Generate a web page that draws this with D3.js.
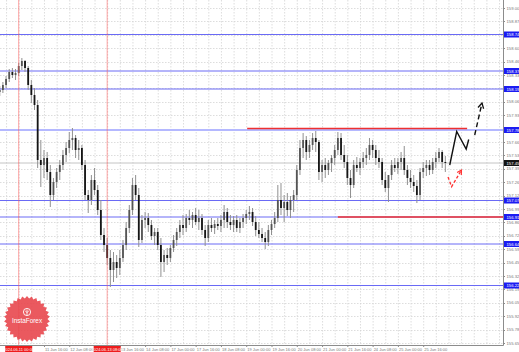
<!DOCTYPE html>
<html><head><meta charset="utf-8">
<script src="https://cdn.jsdelivr.net/npm/d3@7"></script>
<style>html,body{margin:0;padding:0;background:#fff;}svg{display:block;}</style>
</head><body>
<svg id="c" width="519" height="352"></svg>
<script>
// ---- DATA (2-hour bars, index 0 = 2024.06.11 00:00) ----
const firstBar = -6;
const opens = [158.16,158.18,158.23,158.29,158.36,158.33,158.35,158.42,158.47,158.40,158.23,158.13,158.03,157.48,157.43,157.50,157.36,157.13,157.26,157.36,157.43,157.53,157.60,157.68,157.70,157.58,157.60,157.43,157.13,157.08,157.28,157.18,156.98,156.73,156.63,156.50,156.38,156.46,156.40,156.50,156.63,156.80,156.98,157.23,157.13,156.68,156.88,156.90,156.83,156.72,156.76,156.63,156.46,156.53,156.50,156.60,156.68,156.76,156.83,156.80,156.90,156.88,156.93,156.86,156.90,156.78,156.70,156.83,156.80,156.84,156.82,156.88,156.96,156.86,156.83,156.88,156.80,156.86,156.90,156.94,156.96,156.86,156.78,156.74,156.70,156.66,156.78,156.84,156.90,157.08,157.00,157.06,156.98,157.08,157.13,157.38,157.60,157.68,157.56,157.63,157.70,157.66,157.36,157.43,157.38,157.45,157.50,157.58,157.70,157.53,157.46,157.30,157.23,157.43,157.40,157.46,157.50,157.53,157.63,157.58,157.50,157.46,157.28,157.20,157.33,157.43,157.40,157.46,157.50,157.38,157.30,157.26,157.22,157.13,157.36,157.40,157.43,157.38,157.46,157.50,157.56,157.46];
const highs = [158.22,158.26,158.32,158.39,158.40,158.39,158.45,158.50,158.48,158.42,158.28,158.20,158.08,157.68,157.58,157.56,157.43,157.30,157.40,157.48,157.58,157.66,157.76,157.80,157.73,157.68,157.63,157.48,157.18,157.33,157.40,157.23,157.08,156.80,156.70,156.58,156.56,156.53,156.58,156.68,156.86,157.03,157.30,157.33,157.20,156.93,156.96,156.95,156.88,156.80,156.80,156.70,156.58,156.60,156.63,156.73,156.80,156.88,156.93,156.94,156.98,156.96,157.00,156.98,156.94,156.83,156.88,156.90,156.88,156.90,156.93,157.03,157.00,156.93,156.92,156.93,156.90,156.94,156.98,157.02,157.00,156.92,156.86,156.80,156.76,156.83,156.88,156.96,157.23,157.25,157.13,157.15,157.12,157.18,157.43,157.68,157.75,157.72,157.68,157.75,157.77,157.68,157.48,157.50,157.48,157.53,157.63,157.76,157.75,157.63,157.53,157.38,157.48,157.51,157.50,157.56,157.60,157.70,157.68,157.63,157.58,157.50,157.36,157.28,157.48,157.50,157.50,157.56,157.62,157.43,157.38,157.33,157.28,157.40,157.46,157.48,157.48,157.50,157.56,157.60,157.58,157.52];
const lows = [158.12,158.15,158.20,158.26,158.30,158.28,158.32,158.38,158.36,158.18,158.05,157.98,157.40,157.21,157.30,157.28,157.01,157.08,157.20,157.28,157.38,157.46,157.55,157.58,157.50,157.48,157.38,157.08,156.95,157.03,157.13,156.93,156.68,156.56,156.43,156.21,156.26,156.30,156.33,156.46,156.58,156.75,156.93,157.08,156.61,156.65,156.80,156.76,156.68,156.63,156.58,156.31,156.36,156.43,156.46,156.56,156.62,156.70,156.73,156.76,156.83,156.80,156.83,156.78,156.73,156.62,156.66,156.76,156.74,156.78,156.76,156.80,156.80,156.78,156.76,156.76,156.75,156.80,156.84,156.88,156.82,156.72,156.70,156.66,156.59,156.62,156.73,156.80,156.86,156.93,156.86,156.92,156.90,156.96,157.08,157.33,157.50,157.48,157.50,157.58,157.56,157.28,157.26,157.30,157.33,157.36,157.43,157.53,157.48,157.40,157.23,157.10,157.20,157.36,157.33,157.40,157.43,157.48,157.50,157.43,157.40,157.23,157.16,157.06,157.28,157.36,157.34,157.38,157.33,157.23,157.20,157.16,157.05,157.08,157.30,157.32,157.33,157.34,157.40,157.46,157.40,157.36];
const closes = [158.18,158.23,158.29,158.36,158.33,158.35,158.42,158.47,158.40,158.23,158.13,158.03,157.48,157.43,157.50,157.36,157.13,157.26,157.36,157.43,157.53,157.60,157.68,157.70,157.58,157.60,157.43,157.13,157.08,157.28,157.18,156.98,156.73,156.63,156.50,156.38,156.46,156.40,156.50,156.63,156.80,156.98,157.23,157.13,156.68,156.88,156.90,156.83,156.72,156.76,156.63,156.46,156.53,156.50,156.60,156.68,156.76,156.83,156.80,156.90,156.88,156.93,156.86,156.90,156.78,156.70,156.83,156.80,156.84,156.82,156.88,156.96,156.86,156.83,156.88,156.80,156.86,156.90,156.94,156.96,156.86,156.78,156.74,156.70,156.66,156.78,156.84,156.90,157.08,157.00,157.06,156.98,157.08,157.13,157.38,157.60,157.68,157.56,157.63,157.70,157.66,157.36,157.43,157.38,157.45,157.50,157.58,157.70,157.53,157.46,157.30,157.23,157.43,157.40,157.46,157.50,157.53,157.63,157.58,157.50,157.46,157.28,157.20,157.33,157.43,157.40,157.46,157.50,157.38,157.30,157.26,157.22,157.13,157.36,157.40,157.43,157.38,157.46,157.50,157.56,157.46,157.45];

const yTicks = [159.000,158.866,158.732,158.598,158.464,158.330,158.196,158.062,157.928,157.794,157.660,157.526,157.392,157.258,157.124,156.990,156.856,156.722,156.588,156.454,156.320,156.186,156.052,155.918,155.784,155.650];
const xTickBars = [8,16,32,40,48,56,64,72,80,88,96,104,112,120,128];
const xTickLabels = ["11 Jun 16:00","12 Jun 08:00","13 Jun 16:00","14 Jun 08:00","17 Jun 00:00","17 Jun 16:00","18 Jun 08:00","19 Jun 00:00","19 Jun 16:00","20 Jun 08:00","21 Jun 00:00","21 Jun 16:00","24 Jun 08:00","25 Jun 00:00","25 Jun 16:00"];

const levelPrices = [158.735,158.370,158.190,156.910,157.075,156.640,156.225];
const levelStrong = [157.780];
const bidPrice = 157.450;
const redLevelPrices = [157.795, 156.910];
const redLevelFrom = [72.3, 101.0];
const redLevelTo = [141.9, 160];
const vLineBars = [0, 28];
const vLineLabels = ["2024.06.11 00:00","2024.06.13 08:00"];
const fcBlackBars = [136.4,138.6,141.6,142.4];
const fcBlackPrices = [157.43,157.765,157.59,157.685];
const fcDashBars = [144.3,146.6];
const fcDashPrices = [157.73,158.05];
const fcRedBars = [135.85,137.0,140.1];
const fcRedPrices = [157.31,157.213,157.38];

// ---- DRAW ----
const W = 503, H = 345;
const svg = d3.select("#c");
const x = d3.scaleLinear().domain([0,128]).range([18.7,423.2]);
const y = d3.scaleLinear().domain([159.08,155.63]).range([0,345]);
const font = "'Liberation Sans', Arial, sans-serif";
const fmt = d => d.toFixed(2);

svg.append("defs").append("clipPath").attr("id","pc").append("rect").attr("x",0).attr("y",0).attr("width",W).attr("height",H);
const g = svg.append("g").attr("clip-path","url(#pc)");

// grid
const vGrid = d3.range(-4, 160, 4);
g.selectAll(".vg").data(vGrid).join("line").attr("x1",d=>x(d)+0.5).attr("x2",d=>x(d)+0.5).attr("y1",0).attr("y2",H)
 .attr("stroke","#d4d4d4").attr("stroke-width",0.8).attr("stroke-dasharray","1.5,1.5");
g.selectAll(".hg").data(yTicks).join("line").attr("x1",0).attr("x2",W).attr("y1",d=>Math.round(y(d))+0.5).attr("y2",d=>Math.round(y(d))+0.5)
 .attr("stroke","#d4d4d4").attr("stroke-width",0.8).attr("stroke-dasharray","1.5,1.5");

// bid line
g.append("line").attr("x1",0).attr("x2",W).attr("y1",y(bidPrice)).attr("y2",y(bidPrice)).attr("stroke","#c4c4c4").attr("stroke-width",1);

// blue levels
g.selectAll(".lv").data(levelPrices).join("line").attr("x1",0).attr("x2",W).attr("y1",d=>y(d)).attr("y2",d=>y(d))
 .attr("stroke","#6a6af5").attr("stroke-width",1);
g.selectAll(".lvs").data(levelStrong).join("line").attr("x1",0).attr("x2",W).attr("y1",d=>y(d)).attr("y2",d=>y(d))
 .attr("stroke","#b4b8ff").attr("stroke-width",1.8);

// candles
const bars = d3.range(opens.length).map(k=>({i:firstBar+k,o:opens[k],h:highs[k],l:lows[k],c:closes[k]}));
g.selectAll(".wk").data(bars).join("line").attr("x1",d=>x(d.i)).attr("x2",d=>x(d.i)).attr("y1",d=>y(d.h)).attr("y2",d=>y(d.l))
 .attr("stroke","#909090").attr("stroke-width",1);
g.selectAll(".bd").data(bars).join("rect").attr("x",d=>x(d.i)-0.9).attr("width",1.8)
 .attr("y",d=>y(Math.max(d.o,d.c))).attr("height",d=>Math.max(0.8,Math.abs(y(d.o)-y(d.c))))
 .attr("fill",d=>d.c>=d.o?"#555":"#151515");

// red vertical lines
g.selectAll(".vl").data(vLineBars).join("line").attr("x1",d=>x(d)).attr("x2",d=>x(d)).attr("y1",0).attr("y2",H)
 .attr("stroke","#ff5a5a").attr("stroke-opacity",0.55).attr("stroke-width",1);

// red levels
g.selectAll(".rl").data(redLevelPrices).join("line").attr("x1",(d,k)=>x(redLevelFrom[k])).attr("x2",(d,k)=>x(redLevelTo[k]))
 .attr("y1",d=>y(d)).attr("y2",d=>y(d)).attr("stroke","#ee3030").attr("stroke-width",1.6);

// forecast drawings
function arrowHead(p1, p2, len, col, w){
  const a = Math.atan2(p2[1]-p1[1], p2[0]-p1[0]);
  const pts = [[p2[0]-len*Math.cos(a-0.5), p2[1]-len*Math.sin(a-0.5)], p2, [p2[0]-len*Math.cos(a+0.5), p2[1]-len*Math.sin(a+0.5)]];
  g.append("path").attr("d", d3.line()(pts)).attr("fill","none").attr("stroke",col).attr("stroke-width",w);
}
const line = d3.line();
const bPts = fcBlackBars.map((b,k)=>[x(b), y(fcBlackPrices[k])]);
g.append("path").attr("d",line(bPts)).attr("fill","none").attr("stroke","#111").attr("stroke-width",1.4);
const dPts = fcDashBars.map((b,k)=>[x(b), y(fcDashPrices[k])]);
g.append("path").attr("d",line(dPts)).attr("fill","none").attr("stroke","#111").attr("stroke-width",1.4).attr("stroke-dasharray","5,3");
arrowHead(dPts[0], dPts[1], 6, "#111", 1.3);
const rPts = fcRedBars.map((b,k)=>[x(b), y(fcRedPrices[k])]);
g.append("path").attr("d",line(rPts)).attr("fill","none").attr("stroke","#ff3030").attr("stroke-width",1.3).attr("stroke-dasharray","3,2");
arrowHead(rPts[1], rPts[2], 5, "#ff3030", 1.2);

// logo
const lg = svg.append("g").attr("transform","translate(27,319)");
const n = 30, R = 23, r = 20.5;
const star = d3.range(n*2).map(k=>{const a = k*Math.PI/n; const rr = k%2?r:R; return [rr*Math.sin(a), -rr*Math.cos(a)];});
lg.append("path").attr("d", d3.line()(star)+"Z").attr("fill","#e8474e").attr("fill-opacity",0.9);
lg.append("circle").attr("cx",0).attr("cy",-7).attr("r",3.6).attr("fill","none").attr("stroke","#fff").attr("stroke-width",0.9);
lg.append("path").attr("d","M0,-9.5 L0,-4 M-1.8,-8 L0,-6.5 L1.8,-8").attr("stroke","#fff").attr("stroke-width",0.8).attr("fill","none");
lg.append("text").attr("x",0).attr("y",4).attr("text-anchor","middle").attr("font-family",font).attr("font-size",6.4).attr("fill","#fff").text("InstaForex");

// axes lines
svg.append("line").attr("x1",W+0.5).attr("x2",W+0.5).attr("y1",0).attr("y2",H+0.5).attr("stroke","#8c8c8c").attr("stroke-width",1);
svg.append("line").attr("x1",0).attr("x2",W+0.5).attr("y1",H+0.5).attr("y2",H+0.5).attr("stroke","#8c8c8c").attr("stroke-width",1);

// right axis labels
const ra = svg.append("g");
ra.selectAll("line").data(yTicks).join("line").attr("x1",W).attr("x2",W+2).attr("y1",d=>Math.round(y(d))+0.5).attr("y2",d=>Math.round(y(d))+0.5).attr("stroke","#8c8c8c");
ra.selectAll("text").data(yTicks).join("text").attr("x",W+3.5).attr("y",d=>y(d)+1.5).attr("font-family",font).attr("font-size",4.2).attr("fill","#7a7a7a").text(fmt);
const boxes = levelPrices.concat(levelStrong);
const bx = svg.append("g");
bx.selectAll("rect").data(boxes).join("rect").attr("x",W+1).attr("y",d=>y(d)-3).attr("width",15).attr("height",6).attr("fill","#1c1cf2");
bx.selectAll("text").data(boxes).join("text").attr("x",W+3.5).attr("y",d=>y(d)+1.5).attr("font-family",font).attr("font-size",4.2).attr("fill","#fff").text(fmt);
svg.append("rect").attr("x",W+1).attr("y",y(bidPrice)-3).attr("width",15).attr("height",6).attr("fill","#151515");
svg.append("text").attr("x",W+3.5).attr("y",y(bidPrice)+1.5).attr("font-family",font).attr("font-size",4.2).attr("fill","#fff").text(fmt(bidPrice));

// bottom axis labels
const ba = svg.append("g");
ba.selectAll("line").data(xTickBars).join("line").attr("x1",d=>x(d)+0.5).attr("x2",d=>x(d)+0.5).attr("y1",H).attr("y2",H+2).attr("stroke","#8c8c8c");
ba.selectAll("text").data(xTickBars).join("text").attr("x",d=>x(d)+1).attr("y",350.5).attr("font-family",font).attr("font-size",4.0).attr("fill","#7a7a7a").text((d,k)=>xTickLabels[k]);
const vb = svg.append("g");
vb.selectAll("rect").data(vLineBars).join("rect").attr("x",d=>x(d)-13.5).attr("y",346).attr("width",27).attr("height",6).attr("fill","#ee1c1c");
vb.selectAll("text").data(vLineBars).join("text").attr("x",d=>x(d)).attr("y",350.6).attr("text-anchor","middle").attr("font-family",font).attr("font-size",4.0).attr("fill","#fff").text((d,k)=>vLineLabels[k]);
</script>
</body></html>
